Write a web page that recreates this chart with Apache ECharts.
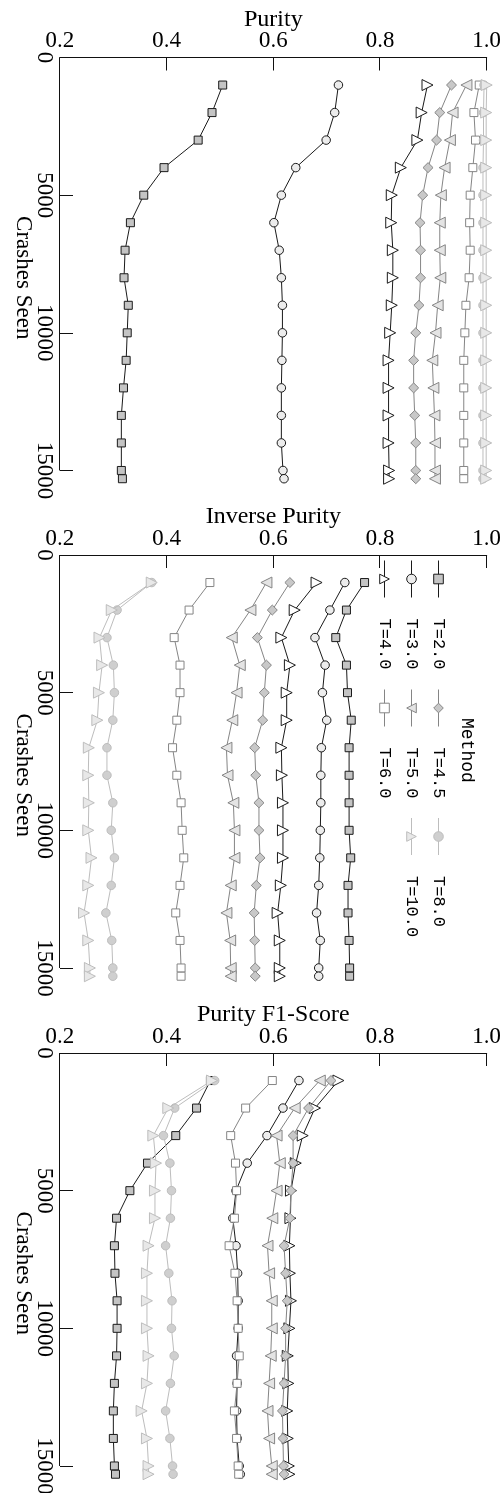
<!DOCTYPE html>
<html><head><meta charset="utf-8">
<script src="https://cdn.jsdelivr.net/npm/echarts@6/dist/echarts.min.js"></script>
<style>
html,body{margin:0;padding:0;overflow:hidden;background:#fff;width:503px;height:1493px;}
#chart{position:absolute;left:0;top:0;width:1493px;height:503px;transform-origin:0 0;transform:translateX(503px) rotate(90deg);background:#fff;}
</style></head><body><div id="chart"></div>
<script>
// ---- data ----
const crashes = [1000,2000,3000,4000,5000,6000,7000,8000,9000,10000,11000,12000,13000,14000,15000,15300];
const methods = ['T=2.0','T=3.0','T=4.0','T=4.5','T=5.0','T=6.0','T=8.0','T=10.0'];
const panelTitles = ['Purity','Inverse Purity','Purity F1-Score'];
const crashTicks = [0,5000,10000,15000];
const purityTicks = [0.2,0.4,0.6,0.8,1.0];
const legendTitle = 'Method';

const purity = [
  [0.505,0.485,0.459,0.395,0.357,0.332,0.322,0.320,0.328,0.326,0.324,0.319,0.315,0.315,0.315,0.317],
  [0.722,0.715,0.699,0.642,0.615,0.601,0.611,0.615,0.617,0.617,0.616,0.615,0.615,0.615,0.618,0.620],
  [0.889,0.878,0.870,0.839,0.822,0.821,0.824,0.824,0.822,0.819,0.816,0.816,0.816,0.816,0.817,0.817],
  [0.934,0.912,0.906,0.890,0.880,0.875,0.876,0.876,0.873,0.867,0.863,0.863,0.865,0.867,0.867,0.867],
  [0.962,0.936,0.931,0.921,0.914,0.912,0.912,0.913,0.908,0.904,0.898,0.900,0.902,0.903,0.903,0.903],
  [0.986,0.976,0.979,0.974,0.969,0.968,0.969,0.967,0.961,0.959,0.957,0.957,0.957,0.957,0.957,0.957],
  [0.995,0.994,0.994,0.993,0.993,0.993,0.993,0.993,0.993,0.993,0.993,0.993,0.993,0.993,0.993,0.993],
  [1.000,0.999,0.999,0.999,0.999,0.999,0.999,0.999,0.999,0.999,0.999,0.999,0.999,0.999,0.999,0.999]
];
const inversePurity = [
  [0.771,0.737,0.717,0.737,0.739,0.746,0.742,0.742,0.742,0.742,0.745,0.740,0.740,0.742,0.743,0.743],
  [0.734,0.706,0.678,0.697,0.692,0.700,0.690,0.689,0.689,0.688,0.687,0.685,0.681,0.688,0.685,0.685],
  [0.681,0.640,0.615,0.631,0.625,0.625,0.615,0.616,0.618,0.618,0.618,0.614,0.608,0.612,0.612,0.612],
  [0.631,0.598,0.570,0.587,0.583,0.580,0.565,0.567,0.573,0.573,0.575,0.568,0.564,0.565,0.566,0.566],
  [0.587,0.557,0.522,0.537,0.531,0.523,0.512,0.514,0.525,0.527,0.527,0.520,0.512,0.519,0.520,0.520],
  [0.481,0.442,0.414,0.425,0.425,0.419,0.411,0.419,0.427,0.429,0.432,0.425,0.417,0.425,0.427,0.427],
  [0.372,0.307,0.288,0.300,0.302,0.299,0.288,0.288,0.299,0.296,0.302,0.296,0.286,0.297,0.299,0.299],
  [0.372,0.297,0.274,0.279,0.273,0.270,0.254,0.253,0.254,0.253,0.259,0.253,0.245,0.253,0.256,0.256]
];
const purityF1 = [
  [0.482,0.456,0.417,0.364,0.331,0.306,0.302,0.303,0.307,0.307,0.306,0.302,0.300,0.300,0.302,0.304],
  [0.648,0.618,0.588,0.551,0.530,0.524,0.530,0.533,0.534,0.534,0.531,0.532,0.531,0.532,0.536,0.538],
  [0.722,0.678,0.655,0.642,0.633,0.632,0.630,0.631,0.633,0.630,0.627,0.628,0.626,0.627,0.629,0.630],
  [0.708,0.666,0.637,0.637,0.633,0.631,0.620,0.623,0.626,0.623,0.623,0.620,0.617,0.618,0.619,0.620],
  [0.687,0.640,0.606,0.612,0.606,0.598,0.589,0.592,0.597,0.597,0.595,0.592,0.589,0.592,0.597,0.597],
  [0.598,0.548,0.520,0.529,0.531,0.527,0.517,0.528,0.532,0.534,0.536,0.532,0.527,0.531,0.534,0.535],
  [0.490,0.415,0.394,0.406,0.409,0.407,0.398,0.404,0.410,0.409,0.414,0.407,0.398,0.406,0.411,0.412],
  [0.485,0.403,0.375,0.380,0.378,0.378,0.366,0.363,0.363,0.363,0.366,0.363,0.353,0.363,0.366,0.366]
];
const panels = [purity, inversePurity, purityF1];

// ---- styles ----
const styles = [
  {symbol:'rect',     size:8,   rot:0,   fill:'#c4c4c4', edge:'#1a1a1a', line:'#1a1a1a'},
  {symbol:'circle',   size:8.5, rot:0,   fill:'#ececec', edge:'#1a1a1a', line:'#1a1a1a'},
  {symbol:'triangle', size:11,  rot:0,   fill:'#ffffff', edge:'#1a1a1a', line:'#1a1a1a'},
  {symbol:'diamond',  size:10,  rot:0,   fill:'#c8c8c8', edge:'#858585', line:'#858585'},
  {symbol:'triangle', size:11,  rot:180, fill:'#e4e4e4', edge:'#858585', line:'#858585'},
  {symbol:'rect',     size:8,   rot:0,   fill:'#ffffff', edge:'#858585', line:'#858585'},
  {symbol:'circle',   size:8.5, rot:0,   fill:'#cfcfcf', edge:'#bdbdbd', line:'#bdbdbd'},
  {symbol:'triangle', size:11,  rot:0,   fill:'#e8e8e8', edge:'#bdbdbd', line:'#bdbdbd'}
];
const serif = 'Liberation Serif';
const mono = 'Liberation Mono';
const axisColor = '#111';
const gridLeft = [57.5, 555, 1053];
const legendColumns = [[0,1,2],[3,4,5],[6,7]];
const legendLeft = [560, 689, 817.5];

const chart = echarts.init(document.getElementById('chart'), null, {renderer:'canvas'});

const grid = gridLeft.map(l => ({left:l, top:16.3, width:440.5, height:426.7, outerBoundsMode:'none'}));
const xAxis = gridLeft.map((l,i) => ({
  type:'value', gridIndex:i, min:0, max:16000, interval:5000, position:'bottom',
  axisLine:{show:false},
  axisTick:{show:true, inside:true, length:13, customValues:crashTicks, lineStyle:{color:axisColor, width:1}},
  axisLabel:{show:true, customValues:crashTicks, margin:4, color:'#000', fontFamily:serif, fontSize:23, formatter:v=>String(v)},
  splitLine:{show:false},
  name:'Crashes Seen', nameLocation:'middle', nameGap:25.5, nameMoveOverlap:false,
  nameTextStyle:{color:'#000', fontFamily:serif, fontSize:23}
}));
const yAxis = gridLeft.map((l,i) => ({
  type:'value', gridIndex:i, min:purityTicks[0], max:purityTicks[purityTicks.length-1], interval:0.2, position:'left',
  axisLine:{show:true, onZero:false, lineStyle:{color:axisColor, width:1}},
  axisTick:{show:true, inside:true, length:13, lineStyle:{color:axisColor, width:1}},
  axisLabel:{show:true, rotate:90, margin:5, color:'#000', fontFamily:serif, fontSize:23, formatter:v=>v.toFixed(1)},
  splitLine:{show:false},
  name:panelTitles[i], nameLocation:'middle', nameGap:26, nameRotate:90, nameMoveOverlap:false,
  nameTextStyle:{color:'#000', fontFamily:serif, fontSize:24}
}));

const series = [];
panels.forEach((panel, i) => {
  panel.forEach((vals, k) => {
    const st = styles[k];
    const s = {
      type:'line', name:methods[k], xAxisIndex:i, yAxisIndex:i,
      data: crashes.map((c,j) => [c, vals[j]]),
      symbol:st.symbol, symbolSize:st.size, symbolRotate:st.rot, showAllSymbol:true, clip:false,
      itemStyle:{color:st.fill, borderColor:st.edge, borderWidth:1, opacity:1},
      lineStyle:{color:st.line, width:1},
      emphasis:{disabled:true}, animation:false, z:2+k
    };
    if (k === 0) {
      s.markLine = {
        silent:true, symbol:['none','none'], label:{show:false}, animation:false,
        lineStyle:{color:axisColor, width:1, type:'solid'}, emphasis:{disabled:true},
        data:[[{coord:[crashTicks[0], purityTicks[0]]},{coord:[crashTicks[crashTicks.length-1], purityTicks[0]]}]]
      };
    }
    series.push(s);
  });
});

const legend = legendColumns.map((col, j) => ({
  orient:'vertical', left:legendLeft[j], top:56, padding:0, itemGap:10, itemWidth:37, itemHeight:12,
  selectedMode:false, data:col.map(k => methods[k]),
  lineStyle:{width:1}, itemStyle:{borderWidth:1},
  textStyle:{fontFamily:mono, fontSize:17, color:'#000', padding:[0,0,0,16]}
}));

chart.setOption({
  animation:false,
  backgroundColor:'#fff',
  title:{text:legendTitle, left:718, top:27.5, padding:0, textStyle:{fontFamily:mono, fontSize:18, fontWeight:'normal', color:'#000'}},
  legend, grid, xAxis, yAxis, series
});
</script></body></html>
